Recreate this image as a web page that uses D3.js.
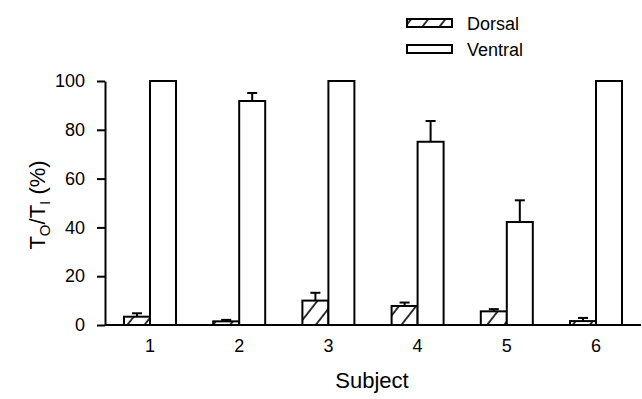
<!DOCTYPE html>
<html>
<head>
<meta charset="utf-8">
<script src="https://cdn.jsdelivr.net/npm/d3@7"></script>
<style>
  html, body { margin: 0; padding: 0; background: #fff; }
  svg { display: block; font-family: "Liberation Sans", Arial, sans-serif; }
</style>
</head>
<body>
<svg id="chart" width="642" height="399"></svg>
<script>
// Subjects and transmission ratio (%) per side, with SE upper bounds
const subjects = ["1", "2", "3", "4", "5", "6"];
const seriesNames = ["Dorsal", "Ventral"];
const dorsal = [3.4, 1.5, 10.0, 7.8, 5.6, 1.6];
const dorsalErr = [1.4, 0.6, 3.2, 1.4, 0.9, 1.3];
const ventral = [100, 91.8, 100, 75.1, 42.2, 100];
const ventralErr = [0, 3.3, 0, 8.5, 8.9, 0];
const yTicks = [0, 20, 40, 60, 80, 100];

const svg = d3.select("#chart");

const x = d3.scaleBand().domain(subjects).range([105, 641])
  .paddingInner(0.417).paddingOuter(0.213);
const xs = d3.scaleBand().domain(seriesNames).range([0, x.bandwidth()]);
const y = d3.scaleLinear().domain([0, 100]).range([325, 81]);

// diagonal hatch for the dorsal bars
const defs = svg.append("defs");
const pat = defs.append("pattern")
  .attr("id", "hatch").attr("patternUnits", "userSpaceOnUse")
  .attr("width", 13.5).attr("height", 20)
  .attr("patternTransform", "translate(3,0) rotate(38)");
pat.append("rect").attr("width", 13.5).attr("height", 20).attr("fill", "#fff");
pat.append("line").attr("x1", 1).attr("y1", 0).attr("x2", 1).attr("y2", 20)
  .attr("stroke", "#000").attr("stroke-width", 1.6);

const rows = subjects.map((s, i) => [
  { s, k: "Dorsal", v: dorsal[i], e: dorsalErr[i] },
  { s, k: "Ventral", v: ventral[i], e: ventralErr[i] }
]).flat();

const g = svg.append("g");

// error bars (upper only)
const eb = g.selectAll(".err").data(rows.filter(d => d.e > 0)).join("g").attr("class", "err");
eb.append("line")
  .attr("x1", d => x(d.s) + xs(d.k) + xs.bandwidth() / 2)
  .attr("x2", d => x(d.s) + xs(d.k) + xs.bandwidth() / 2)
  .attr("y1", d => y(d.v)).attr("y2", d => y(d.v + d.e))
  .attr("stroke", "#000").attr("stroke-width", 2);
eb.append("line")
  .attr("x1", d => x(d.s) + xs(d.k) + xs.bandwidth() / 2 - 5)
  .attr("x2", d => x(d.s) + xs(d.k) + xs.bandwidth() / 2 + 5)
  .attr("y1", d => y(d.v + d.e)).attr("y2", d => y(d.v + d.e))
  .attr("stroke", "#000").attr("stroke-width", 2);

// bars
g.selectAll(".bar").data(rows).join("rect").attr("class", "bar")
  .attr("x", d => x(d.s) + xs(d.k))
  .attr("width", xs.bandwidth())
  .attr("y", d => y(d.v))
  .attr("height", d => y(0) - y(d.v))
  .attr("fill", d => d.k === "Dorsal" ? "url(#hatch)" : "#fff")
  .attr("stroke", "#000").attr("stroke-width", 2);

// y axis
const yAxis = svg.append("g").attr("transform", "translate(105,0)")
  .call(d3.axisLeft(y).tickValues(yTicks).tickSize(8).tickPadding(12).tickSizeOuter(0));
yAxis.select(".domain").attr("stroke-width", 2);
yAxis.selectAll(".tick line").attr("stroke-width", 2);
yAxis.selectAll(".tick text").attr("font-size", 18).attr("fill", "#000");

// x axis baseline and category labels
const xAxis = svg.append("g").attr("transform", "translate(0,325)")
  .call(d3.axisBottom(x).tickSize(0).tickPadding(14));
xAxis.select(".domain").attr("d", "M105,0H641").attr("stroke-width", 2);
xAxis.selectAll(".tick text").attr("font-size", 18).attr("fill", "#000");

// axis titles
svg.append("text").attr("x", 372).attr("y", 388)
  .attr("text-anchor", "middle").attr("font-size", 22).text("Subject");

const yt = svg.append("text").attr("transform", "translate(45,205) rotate(-90)")
  .attr("text-anchor", "middle").attr("font-size", 22);
yt.append("tspan").text("T");
yt.append("tspan").attr("font-size", 15).attr("dy", 5).text("O");
yt.append("tspan").attr("dy", -5).text("/T");
yt.append("tspan").attr("font-size", 15).attr("dy", 5).text("I");
yt.append("tspan").attr("dy", -5).text(" (%)");

// legend
const lg = svg.append("g").selectAll("g").data(seriesNames).join("g")
  .attr("transform", (d, i) => `translate(407,${19 + i * 26})`);
lg.append("rect").attr("width", 45).attr("height", 8)
  .attr("fill", d => d === "Dorsal" ? "url(#hatch)" : "#fff")
  .attr("stroke", "#000").attr("stroke-width", 2);
lg.append("text").attr("x", 60).attr("y", 10.5).attr("font-size", 18).text(d => d);
</script>
</body>
</html>
